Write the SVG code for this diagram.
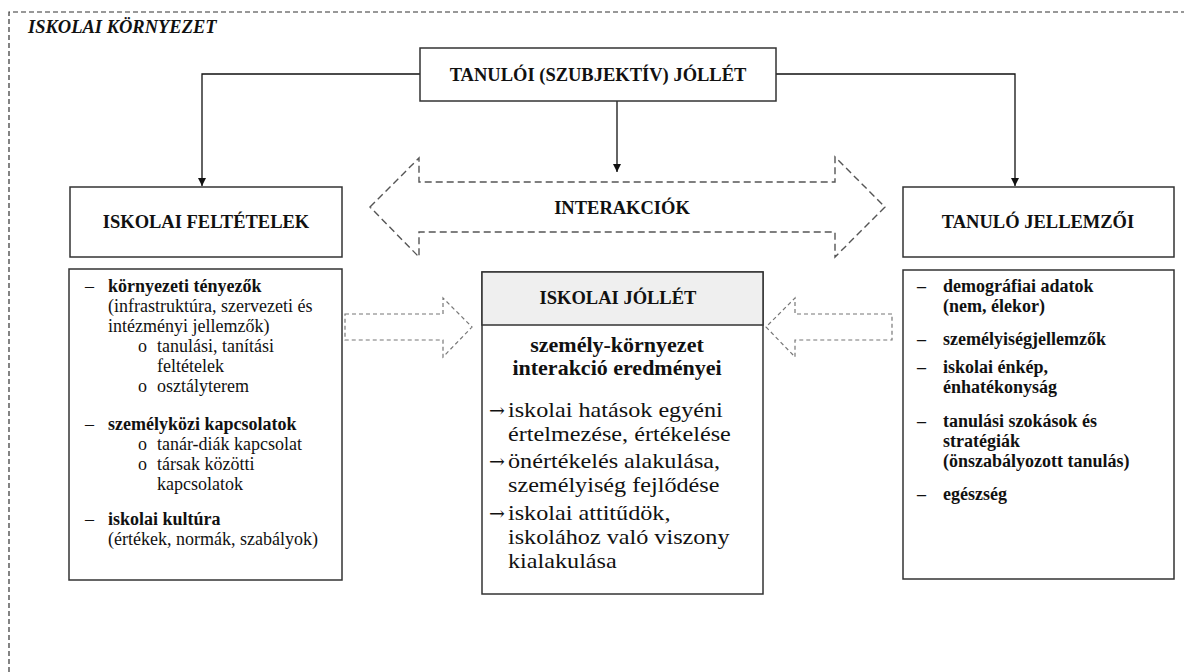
<svg xmlns="http://www.w3.org/2000/svg" width="1184" height="672" viewBox="0 0 1184 672">
  <defs>
    <marker id="arrow" viewBox="0 0 10 10" refX="10" refY="5" markerWidth="8" markerHeight="8" markerUnits="userSpaceOnUse" orient="auto">
      <path d="M0,0 L10,5 L0,10 Z" fill="#111"/>
    </marker>
    <style>
      text { font-family: "Liberation Serif", "Times New Roman", serif; fill: #111; }
      .head { font-size: 18.5px; font-weight: bold; text-anchor: middle; }
      .item { font-size: 18px; }
      .b { font-weight: bold; }
      .mid { font-size: 22px; }
      .body { font-size: 20.5px; }
      text.arr { font-family: "DejaVu Serif", serif; font-size: 19px; }
      .box { fill: #fff; stroke: #333; stroke-width: 1.5; }
      .link { fill: none; stroke: #111; stroke-width: 1.3; }
      .hollow { fill: none; stroke: #777; stroke-width: 1.2; stroke-dasharray: 4 3; }
      .wide { fill: none; stroke: #555; stroke-width: 1.4; stroke-dasharray: 7 4; }
    </style>
  </defs>
  <rect width="1184" height="672" fill="#fff"/>

  <!-- school environment frame -->
  <g id="environment">
    <path d="M9,672 V12 H1184" fill="none" stroke="#333" stroke-width="1.2" stroke-dasharray="5 3"/>
    <text x="28" y="33" font-size="18.5" font-weight="bold" font-style="italic">ISKOLAI KÖRNYEZET</text>
  </g>

  <!-- connectors -->
  <g id="connectors">
    <path class="link" d="M420,74 H202 V186" marker-end="url(#arrow)"/>
    <path class="link" d="M776,74 H1015 V186" marker-end="url(#arrow)"/>
    <path class="link" d="M617,101 V172" marker-end="url(#arrow)"/>
    <path class="hollow" d="M345,314 H443 V298 L472,327 L443,357 V340 H345 Z"/>
    <path class="hollow" d="M892,314 H795 V298 L766,327 L795,357 V340 H892 Z"/>
  </g>

  <g id="student-wellbeing">
    <rect class="box" x="420" y="48" width="356" height="53"/>
    <text class="head" x="598" y="81">TANULÓI (SZUBJEKTÍV) JÓLLÉT</text>
  </g>

  <g id="interactions">
    <path class="wide" d="M370,207 L419,158 V182 H835 V157 L885,207 L835,257 V232 H419 V257 Z"/>
    <text class="head" x="622" y="214">INTERAKCIÓK</text>
  </g>

  <g id="school-conditions">
    <rect class="box" x="70" y="187" width="272" height="70"/>
    <text class="head" x="206" y="228">ISKOLAI FELTÉTELEK</text>
  </g>

  <g id="student-traits">
    <rect class="box" x="903" y="187" width="271" height="70"/>
    <text class="head" x="1038" y="228">TANULÓ JELLEMZŐI</text>
  </g>

  <g id="conditions-list">
    <rect class="box" x="69" y="269" width="273" height="311"/>
    <g class="item">
      <text x="85" y="292">–</text><text class="b" x="108" y="292">környezeti tényezők</text>
      <text x="108" y="312">(infrastruktúra, szervezeti és</text>
      <text x="108" y="332">intézményi jellemzők)</text>
      <text x="138" y="352">o</text><text x="157" y="352">tanulási, tanítási</text>
      <text x="157" y="372">feltételek</text>
      <text x="138" y="392">o</text><text x="157" y="392">osztályterem</text>
      <text x="85" y="430">–</text><text class="b" x="108" y="430">személyközi kapcsolatok</text>
      <text x="138" y="450">o</text><text x="157" y="450">tanár-diák kapcsolat</text>
      <text x="138" y="470">o</text><text x="157" y="470">társak közötti</text>
      <text x="157" y="490">kapcsolatok</text>
      <text x="85" y="525">–</text><text class="b" x="108" y="525">iskolai kultúra</text>
      <text x="108" y="545">(értékek, normák, szabályok)</text>
    </g>
  </g>

  <g id="school-wellbeing">
    <rect class="box" x="482" y="272" width="281" height="322"/>
    <rect x="482" y="272" width="281" height="53" fill="#efefef" stroke="#333" stroke-width="1.5"/>
    <text class="head" x="618" y="304" font-size="20">ISKOLAI JÓLLÉT</text>
    <text class="head mid" x="617" y="352">személy-környezet</text>
    <text class="head mid" x="617" y="375">interakció eredményei</text>
    <text class="arr" x="489" y="417">→</text>
    <text class="arr" x="489" y="468">→</text>
    <text class="arr" x="489" y="520">→</text>
    <!-- body lines set slightly wide, anchored at x=508 -->
    <g class="body" transform="matrix(1.18 0 0 1 -91.44 0)">
      <text x="508" y="417">iskolai hatások egyéni</text>
      <text x="508" y="441">értelmezése, értékelése</text>
      <text x="508" y="468">önértékelés alakulása,</text>
      <text x="508" y="492">személyiség fejlődése</text>
      <text x="508" y="520">iskolai attitűdök,</text>
      <text x="508" y="544">iskolához való viszony</text>
      <text x="508" y="568">kialakulása</text>
    </g>
  </g>

  <g id="traits-list">
    <rect class="box" x="903" y="270" width="271" height="309"/>
    <g class="item b">
      <text x="917" y="292">–</text><text x="943" y="292">demográfiai adatok</text>
      <text x="943" y="312">(nem, élekor)</text>
      <text x="917" y="345">–</text><text x="943" y="345">személyiségjellemzők</text>
      <text x="917" y="373">–</text><text x="943" y="373">iskolai énkép,</text>
      <text x="943" y="393">énhatékonyság</text>
      <text x="917" y="427">–</text><text x="943" y="427">tanulási szokások és</text>
      <text x="943" y="447">stratégiák</text>
      <text x="943" y="467">(önszabályozott tanulás)</text>
      <text x="917" y="500">–</text><text x="943" y="500">egészség</text>
    </g>
  </g>
</svg>
